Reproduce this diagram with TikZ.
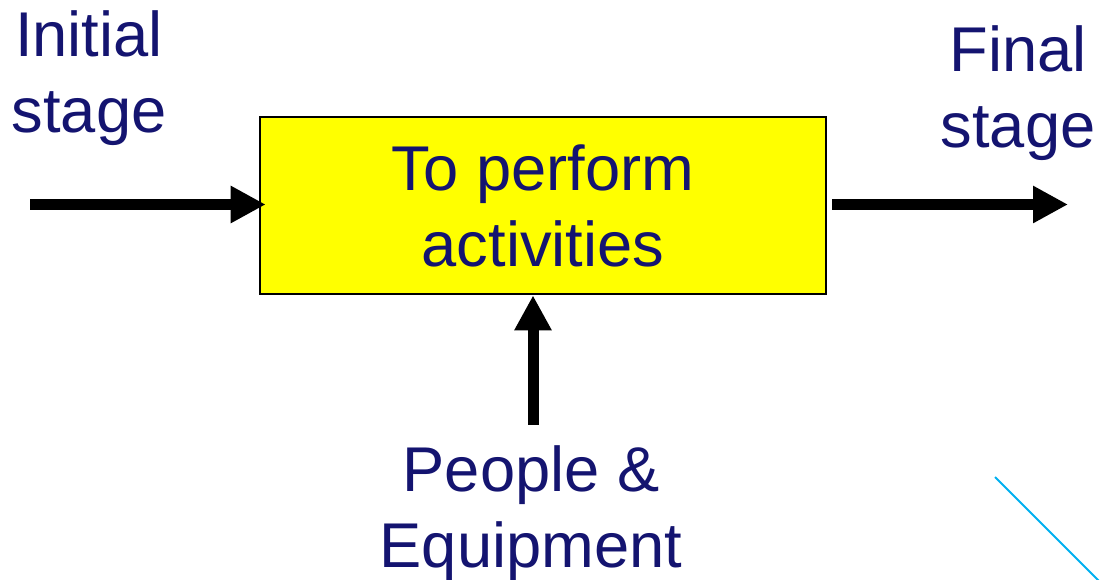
\documentclass[tikz,border=0pt]{standalone}
\usepackage{fontspec}
\setmainfont{Liberation Sans}
\usepackage{tikz}
\usetikzlibrary{arrows.meta,calc}
\definecolor{navytext}{RGB}{20,20,112}
\definecolor{boxyellow}{RGB}{255,255,0}
\definecolor{skyline}{RGB}{0,176,240}

\tikzset{
	lbl/.style={text=navytext, align=center, inner sep=0pt, font=\fontsize{36}{43.2}\selectfont},
	procbox/.style={draw, line width=0.055cm, fill=boxyellow, minimum width=11.32cm, minimum height=3.54cm, lbl},
	flow/.style={line width=0.22cm, -{Triangle[length=0.7cm,width=0.7cm]}}
}

\begin{document}
\begin{tikzpicture}[x=0.02cm,y=-0.02cm]
		\useasboundingbox (0,0) rectangle (1103,580);
		\node[procbox] (task) at (543,205.5) {To perform\\activities};
		\node[lbl,anchor=north] (init) at (89,10) {Initial\\stage};
		\node[lbl,anchor=north] (final) at (1018,25) {Final\\stage};
		\node[lbl,anchor=north] (res) at (531,445) {People \&\\Equipment};
		\coordinate (inA) at (30,204.5);
		\coordinate (outB) at (1068,204.5);
		\coordinate (resA) at (533,425);
		\draw[flow] (inA) -- ($(task.west)+(7,-1)$);
		\draw[flow] ($(task.east)+(5,-1)$) -- (outB);
		\draw[flow] (resA) -- ($(task.south)+(-10,0)$);
		\draw[skyline, line width=0.04cm] (995,477) -- (1100,582);
	\end{tikzpicture}
\end{document}
